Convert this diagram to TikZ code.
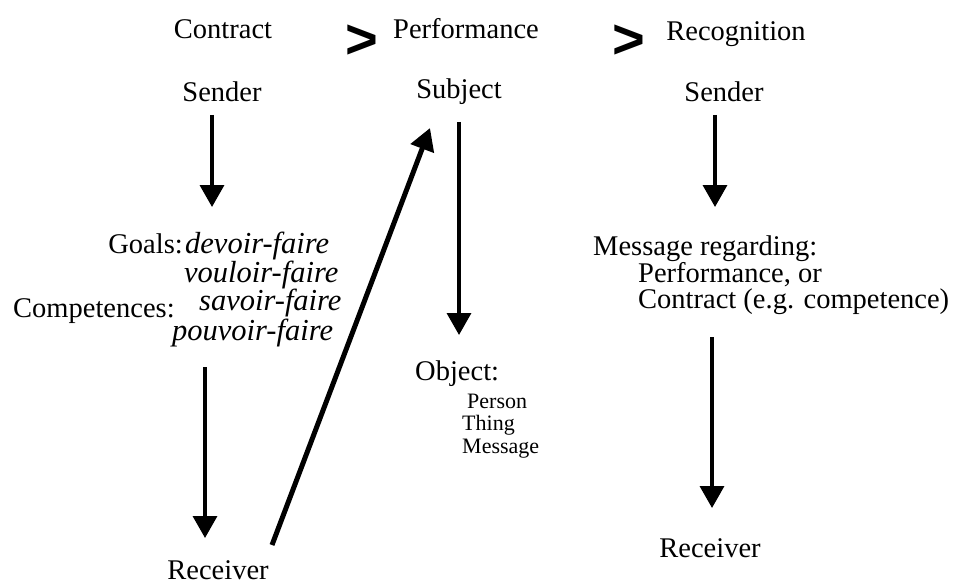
\documentclass[tikz,border=0pt]{standalone}
\usepackage{fontspec}
\setmainfont{Liberation Serif}
\newfontfamily\gtfont{Liberation Sans}
\usetikzlibrary{arrows.meta}

\begin{document}
\begin{tikzpicture}[x=1pt,y=1pt,>={Triangle[width=24pt,length=22pt]},inner sep=0pt,
    txt/.style={font=\fontsize{28.5}{30}\selectfont},
    ital/.style={font=\fontsize{30.5}{32}\selectfont\itshape},
    small/.style={font=\fontsize{22}{24}\selectfont},
    gt/.style={font=\gtfont\bfseries\fontsize{56}{56}\selectfont},
    flow/.style={->,line width=3.5pt}]
            \useasboundingbox (0,0) rectangle (965,582);

            % headings
            \node[txt] (contract) [at = {(223,543)}, anchor = base]{Contract};
            \node[gt] (gt1) [at = {(362,540)}]{>};
            \node[txt] (perform) [at = {(466,543)}, anchor = base]{Performance};
            \node[gt] (gt2) [at = {(629,540)}]{>};
            \node[txt] (recog) [at = {(736,541)}, anchor = base]{Recognition};

            % contract column
            \node[txt] (sendL) [at = {(222,480)}, anchor = base]{Sender};
            \node[txt] (goals) [at = {(183,329)}, anchor = base east]{Goals:};
            \node[ital] (devoir) [at = {(185,329)}, anchor = base west]{devoir-faire};
            \node[ital] (vouloir) [at = {(184,300)}, anchor = base west]{vouloir-faire};
            \node[txt] (comp) [at = {(13,265)}, anchor = base west]{Competences:};
            \node[ital] (savoir) [at = {(199,272)}, anchor = base west]{savoir-faire};
            \node[ital] (pouvoir) [at = {(172,242)}, anchor = base west]{pouvoir-faire};
            \node[txt] (recvL) [at = {(218,3)}, anchor = base]{Receiver};

            % performance column
            \node[txt] (subj) [at = {(459,483)}, anchor = base]{Subject};
            \node[txt] (obj) [at = {(415,202)}, anchor = base west]{Object:};
            \node[small] (person) [at = {(467,174)}, anchor = base west]{Person};
            \node[small] (thing) [at = {(462,152)}, anchor = base west]{Thing};
            \node[small] (message) [at = {(462,129)}, anchor = base west]{Message};

            % recognition column
            \node[txt] (sendR) [at = {(724,480)}, anchor = base]{Sender};
            \node[txt] (msg) [at = {(593,327)}, anchor = base west]{Message regarding:};
            \node[txt] (perf) [at = {(638,300)}, anchor = base west]{Performance, or};
            \node[txt] (contr) [at = {(638,274)}, anchor = base west]{Contract (e.g. competence)};
            \node[txt] (recvR) [at = {(710,25)}, anchor = base]{Receiver};

            \path[flow]
                ([shift={(-10,-13)}]sendL.base) edge ([shift={(29,46)}]goals.base east)
                ([shift={(33,-27)}]pouvoir.base west) edge ([shift={(-13,41)}]recvL.base)
                ([shift={(54,34)}]recvL.base) edge[line width=5pt] ([shift={(-29,-29)}]subj.base)
                ([shift={(0,-23)}]subj.base) edge ([shift={(44,45)}]obj.base west)
                ([shift={(-9,-13)}]sendR.base) edge ([shift={(122,48)}]msg.base west)
                ([shift={(74,-29)}]contr.base west) edge ([shift={(2,49)}]recvR.base)
                ;
        \end{tikzpicture}
\end{document}
